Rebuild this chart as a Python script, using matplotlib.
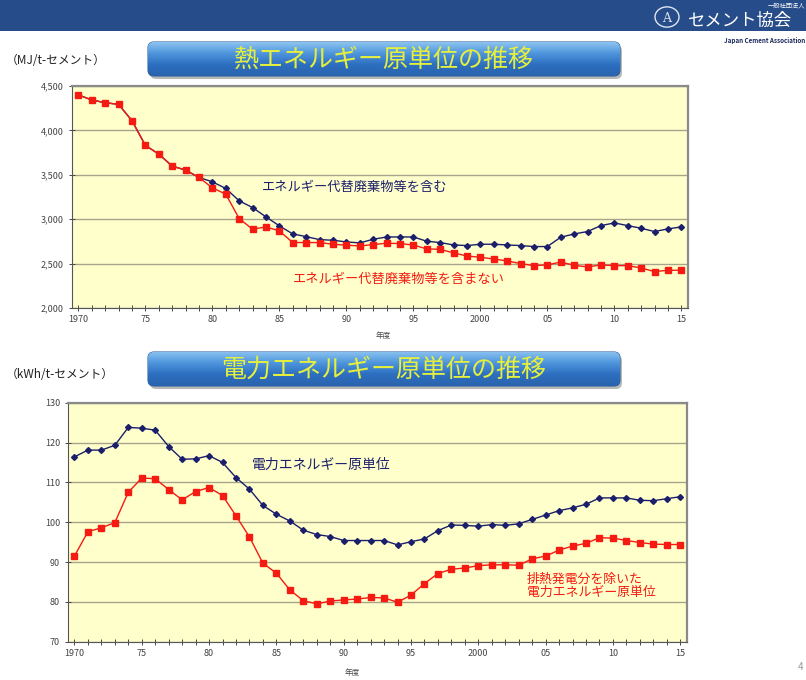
import numpy as np
import matplotlib.pyplot as plt
from matplotlib.patches import FancyBboxPatch, Rectangle, Circle
from matplotlib.ticker import FuncFormatter

plt.rcParams['font.family'] = ['Noto Sans CJK JP', 'DejaVu Sans']

# data
years = list(range(1970, 2016))
tick_labels = ['1970', '75', '80', '85', '90', '95', '2000', '05', '10', '15']

heat_incl = [4400, 4342, 4312, 4293, 4109, 3831, 3733, 3598, 3553, 3470,
             3421, 3346, 3207, 3131, 3026, 2925, 2834, 2804, 2770, 2763,
             2744, 2733, 2774, 2800, 2800, 2800, 2752, 2737, 2710, 2703,
             2718, 2718, 2710, 2703, 2692, 2692, 2797, 2834, 2861, 2928,
             2958, 2928, 2898, 2861, 2891, 2913]
heat_excl = [4400, 4342, 4312, 4293, 4109, 3831, 3733, 3598, 3553, 3470,
             3353, 3282, 3007, 2887, 2913, 2868, 2737, 2737, 2737, 2718,
             2707, 2699, 2714, 2730, 2725, 2710, 2665, 2661, 2620, 2586,
             2571, 2552, 2530, 2500, 2477, 2485, 2518, 2481, 2462, 2485,
             2477, 2477, 2451, 2410, 2425, 2425]

elec_total = [116.4, 118.1, 118.1, 119.3, 123.8, 123.6, 123.1, 119.0, 115.8, 115.9,
              116.7, 115.0, 111.2, 108.3, 104.2, 102.0, 100.3, 98.0, 96.9, 96.4,
              95.4, 95.4, 95.4, 95.4, 94.3, 95.1, 95.8, 97.9, 99.3, 99.2,
              99.0, 99.4, 99.2, 99.6, 100.7, 101.8, 102.9, 103.6, 104.5, 106.1,
              106.1, 106.1, 105.5, 105.4, 105.9, 106.4]
elec_excl = [91.5, 97.6, 98.6, 99.9, 107.5, 111.1, 110.9, 108.2, 105.6, 107.7,
             108.7, 106.7, 101.6, 96.3, 89.7, 87.2, 83.0, 80.3, 79.5, 80.2,
             80.5, 80.7, 81.1, 81.0, 79.9, 81.7, 84.6, 87.1, 88.2, 88.5,
             89.1, 89.3, 89.3, 89.2, 90.8, 91.5, 93.0, 94.0, 94.7, 96.1,
             96.0, 95.4, 94.9, 94.5, 94.4, 94.4]

W, H = 806, 680
fig = plt.figure(figsize=(W / 100, H / 100), dpi=100)
fig.patch.set_facecolor('white')

NAVY = '#1b1f6b'
RED = '#f51a12'
BG = '#ffffcc'


def fx(px):
    return px / W


def fy(py):
    return 1 - py / H


# header band + logo
fig.patches.append(Rectangle((0, fy(31)), 1, 31 / H, transform=fig.transFigure,
                             facecolor='#264d8a', edgecolor='none', zorder=0))
fig.patches.append(Circle((fx(667), fy(17)), 12 / W, transform=fig.transFigure,
                          facecolor='none', edgecolor='#dfe6f2', lw=1.0))
fig.text(fx(667), fy(18), 'A', color='#dfe6f2', fontsize=9, ha='center', va='center',
         family='DejaVu Serif')
fig.text(fx(805), fy(6), '一般社団法人', color='white', fontsize=4.5, ha='right', va='center')
fig.text(fx(688), fy(21), 'セメント協会', color='white', fontsize=12.5, ha='left', va='center')
fig.text(fx(805), fy(41), 'Japan Cement Association', color='#1b2a5e', fontsize=4.5,
         ha='right', va='center', fontweight='bold')


def title_box(y_top, text):
    x0, x1 = 148, 620
    h = 34
    ax = fig.add_axes([fx(x0 - 2), fy(y_top + h + 4), (x1 - x0 + 6) / W, (h + 6) / H])
    ax.set_xlim(x0 - 2, x1 + 4)
    ax.set_ylim(y_top + h + 4, y_top - 2)
    ax.axis('off')
    shadow = FancyBboxPatch((x0 + 2, y_top + 3), x1 - x0, h,
                            boxstyle='round,pad=0,rounding_size=6',
                            facecolor='#8a8a8a', edgecolor='none', alpha=0.6)
    ax.add_patch(shadow)
    box = FancyBboxPatch((x0, y_top), x1 - x0, h,
                         boxstyle='round,pad=0,rounding_size=6',
                         facecolor='none', edgecolor='#2d5f9e', lw=0.8)
    ax.add_patch(box)
    grad = np.linspace(0, 1, 100).reshape(-1, 1)
    cmap = plt.matplotlib.colors.LinearSegmentedColormap.from_list(
        'tb', ['#8cc4f0', '#4e95dc', '#2d6fc0', '#2a63ad'])
    im = ax.imshow(grad, cmap=cmap, aspect='auto', extent=(x0, x1, y_top + h, y_top),
                   zorder=1)
    im.set_clip_path(box)
    ax.text((x0 + x1) / 2, y_top + h / 2 + 1, text, color='#e6f03c', fontsize=18,
            ha='center', va='center', zorder=3)


title_box(42, '熱エネルギー原単位の推移')
title_box(352, '電力エネルギー原単位の推移')

fig.text(fx(6), fy(60), '（MJ/t-セメント）', fontsize=8.5, color='#222222', va='center')
fig.text(fx(6), fy(374), '（kWh/t-セメント）', fontsize=8.5, color='#222222', va='center')
fig.text(fx(800), fy(667), '4', fontsize=7, color='#999999', ha='center', va='center')

x = np.arange(len(years))
major_years = [1970, 1975, 1980, 1985, 1990, 1995, 2000, 2005, 2010, 2015]
major_pos = [years.index(yr) for yr in major_years]


def style_axes(ax, ymin, ymax, step, fmt):
    ax.set_facecolor(BG)
    ax.set_xlim(-0.5, len(years) - 0.5)
    ax.set_ylim(ymin, ymax)
    ax.set_yticks(np.arange(ymin, ymax + step / 2, step))
    ax.yaxis.set_major_formatter(FuncFormatter(fmt))
    ax.set_xticks(major_pos)
    ax.set_xticklabels(tick_labels)
    ax.set_xticks(x, minor=True)
    ax.tick_params(axis='x', which='both', direction='inout', length=4, width=0.7,
                   colors='#444444', labelsize=6.5, pad=3)
    ax.tick_params(axis='y', direction='inout', length=4, width=0.7, colors='#444444',
                   labelsize=6.5)
    ax.grid(axis='y', color='#a8a48a', lw=1.0)
    ax.set_axisbelow(True)
    for s in ['top', 'right']:
        ax.spines[s].set_color('#8a8a8a')
        ax.spines[s].set_linewidth(1.6)
    for s in ['left', 'bottom']:
        ax.spines[s].set_color('#555555')
        ax.spines[s].set_linewidth(0.8)


# top chart
ax1 = fig.add_axes([fx(71.7), fy(308), (688 - 71.7) / W, (308 - 86) / H])
style_axes(ax1, 2000, 4500, 500, lambda v, p: f'{int(v):,}')
ax1.plot(x, heat_incl, color=NAVY, lw=1.0, marker='D', ms=3, zorder=3)
ax1.plot(x, heat_excl, color=RED, lw=1.0, marker='s', ms=4.5, zorder=4)
ax1.text(13.7, 3353, 'エネルギー代替廃棄物等を含む', color=NAVY, fontsize=9.5,
         ha='left', va='center')
ax1.text(16.0, 2323, 'エネルギー代替廃棄物等を含まない', color=RED, fontsize=9.5,
         ha='left', va='center')
fig.text(fx(383), fy(336), '年度', fontsize=5.5, color='#444444', ha='center', va='center')

# bottom chart
ax2 = fig.add_axes([fx(67.7), fy(641.7), (687 - 67.7) / W, (641.7 - 402.7) / H])
style_axes(ax2, 70, 130, 10, lambda v, p: f'{int(v)}')
ax2.plot(x, elec_total, color=NAVY, lw=1.0, marker='D', ms=3, zorder=3)
ax2.plot(x, elec_excl, color=RED, lw=1.0, marker='s', ms=4.5, zorder=4)
ax2.text(13.2, 114.4, '電力エネルギー原単位', color=NAVY, fontsize=10,
         ha='left', va='center')
ax2.text(33.6, 84.1, '排熱発電分を除いた\n電力エネルギー原単位', color=RED, fontsize=9.3,
         ha='left', va='center', linespacing=1.0)
fig.text(fx(352), fy(673), '年度', fontsize=5.5, color='#444444', ha='center', va='center')

fig.savefig('out.png', dpi=100, facecolor='white')
